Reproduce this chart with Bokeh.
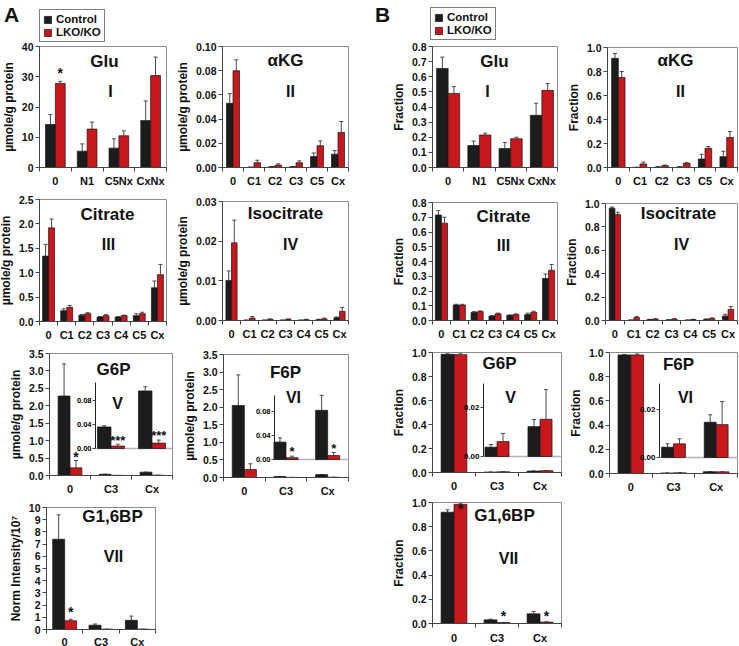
from bokeh.plotting import figure
from bokeh.models import (Range1d, LinearAxis, FixedTicker, PrintfTickFormatter, Whisker, TeeHead,
                          ColumnDataSource, Label, LabelSet, Legend, LegendItem, CustomJSTickFormatter)
from bokeh.core.properties import value
from bokeh.embed import file_html
from bokeh.resources import INLINE

FONT = "Liberation Sans"
BLACK = "#1c1c1c"
RED = "#c8181e"
ERR = "#4a4a4a"
TXT = "#111111"

# ---------------- data ----------------
# Panel A : concentrations
a_glu_cats = ["0", "N1", "C5Nx", "CxNx"]
a_glu_ctrl = [14.2, 5.4, 6.4, 15.5]
a_glu_ctrl_err = [3.3, 2.4, 3.1, 6.5]
a_glu_ko = [27.8, 12.7, 10.5, 30.4]
a_glu_ko_err = [0.7, 2.3, 1.6, 6.1]
a_glu_stars = [(0, "*", 32.2)]

a_akg_cats = ["0", "C1", "C2", "C3", "C5", "Cx"]
a_akg_ctrl = [0.053, 0.0003, 0.0006, 0.0006, 0.009, 0.011]
a_akg_ctrl_err = [0.008, 0.0, 0.0003, 0.0002, 0.003, 0.003]
a_akg_ko = [0.080, 0.004, 0.002, 0.004, 0.018, 0.029]
a_akg_ko_err = [0.009, 0.002, 0.001, 0.0015, 0.004, 0.009]

a_cit_cats = ["0", "C1", "C2", "C3", "C4", "C5", "Cx"]
a_cit_ctrl = [1.34, 0.22, 0.13, 0.09, 0.09, 0.12, 0.69]
a_cit_ctrl_err = [0.24, 0.04, 0.015, 0.01, 0.01, 0.04, 0.14]
a_cit_ko = [1.92, 0.29, 0.16, 0.12, 0.12, 0.16, 0.96]
a_cit_ko_err = [0.18, 0.04, 0.02, 0.02, 0.01, 0.03, 0.21]

a_iso_cats = ["0", "C1", "C2", "C3", "C4", "C5", "Cx"]
a_iso_ctrl = [0.0101, 0.0001, 0.0001, 0.0001, 0.0001, 0.0002, 0.0007]
a_iso_ctrl_err = [0.0024, 0.0, 0.0, 0.0, 0.0, 0.0001, 0.0002]
a_iso_ko = [0.0196, 0.0006, 0.0003, 0.0003, 0.0002, 0.0004, 0.0023]
a_iso_ko_err = [0.0057, 0.0004, 0.0001, 0.0001, 0.0001, 0.0002, 0.0010]

a_g6p_cats = ["0", "C3", "Cx"]
a_g6p_ctrl = [2.28, 0.036, 0.096]
a_g6p_ctrl_err = [0.92, 0.002, 0.007]
a_g6p_ko = [0.22, 0.004, 0.009]
a_g6p_ko_err = [0.21, 0.003, 0.005]
a_g6p_stars = [(0, "*", 0.63)]
a_g6p_inset_stars = [(1, "***", 0.018), (2, "***", 0.027)]

a_f6p_cats = ["0", "C3", "Cx"]
a_f6p_ctrl = [2.05, 0.029, 0.082]
a_f6p_ctrl_err = [0.87, 0.007, 0.025]
a_f6p_ko = [0.23, 0.003, 0.0067]
a_f6p_ko_err = [0.16, 0.0025, 0.005]
a_f6p_inset_stars = [(1, "*", 0.018), (2, "*", 0.023)]

a_g16_cats = ["0", "C3", "Cx"]
a_g16_ctrl = [7.4, 0.35, 0.75]
a_g16_ctrl_err = [2.0, 0.1, 0.35]
a_g16_ko = [0.72, 0.03, 0.03]
a_g16_ko_err = [0.12, 0.0, 0.0]
a_g16_stars = [(0, "*", 1.72)]

# Panel B : fractions
b_glu_cats = ["0", "N1", "C5Nx", "CxNx"]
b_glu_ctrl = [0.655, 0.145, 0.125, 0.345]
b_glu_ctrl_err = [0.075, 0.03, 0.04, 0.08]
b_glu_ko = [0.49, 0.215, 0.19, 0.51]
b_glu_ko_err = [0.045, 0.012, 0.01, 0.045]

b_akg_cats = ["0", "C1", "C2", "C3", "C5", "Cx"]
b_akg_ctrl = [0.91, 0.002, 0.005, 0.005, 0.07, 0.09]
b_akg_ctrl_err = [0.04, 0.0, 0.002, 0.002, 0.04, 0.045]
b_akg_ko = [0.75, 0.03, 0.015, 0.035, 0.16, 0.25]
b_akg_ko_err = [0.05, 0.015, 0.005, 0.005, 0.015, 0.05]

b_cit_cats = ["0", "C1", "C2", "C3", "C4", "C5", "Cx"]
b_cit_ctrl = [0.715, 0.105, 0.055, 0.03, 0.035, 0.04, 0.285]
b_cit_ctrl_err = [0.03, 0.005, 0.005, 0.003, 0.003, 0.01, 0.03]
b_cit_ko = [0.66, 0.105, 0.06, 0.045, 0.04, 0.055, 0.34]
b_cit_ko_err = [0.04, 0.005, 0.005, 0.005, 0.005, 0.008, 0.04]

b_iso_cats = ["0", "C1", "C2", "C3", "C4", "C5", "Cx"]
b_iso_ctrl = [0.96, 0.003, 0.008, 0.005, 0.003, 0.01, 0.038]
b_iso_ctrl_err = [0.01, 0.002, 0.002, 0.002, 0.002, 0.003, 0.015]
b_iso_ko = [0.905, 0.025, 0.012, 0.012, 0.008, 0.017, 0.095]
b_iso_ko_err = [0.02, 0.01, 0.003, 0.003, 0.002, 0.005, 0.025]

b_g6p_cats = ["0", "C3", "Cx"]
b_g6p_ctrl = [0.985, 0.0038, 0.0122]
b_g6p_ctrl_err = [0.004, 0.0011, 0.0029]
b_g6p_ko = [0.982, 0.0061, 0.0152]
b_g6p_ko_err = [0.012, 0.0033, 0.0121]

b_f6p_cats = ["0", "C3", "Cx"]
b_f6p_ctrl = [0.98, 0.0043, 0.0147]
b_f6p_ctrl_err = [0.004, 0.0014, 0.0031]
b_f6p_ko = [0.98, 0.0057, 0.0137]
b_f6p_ko_err = [0.008, 0.0021, 0.0096]

b_g16_cats = ["0", "C3", "Cx"]
b_g16_ctrl = [0.92, 0.03, 0.08]
b_g16_ctrl_err = [0.02, 0.005, 0.02]
b_g16_ko = [0.985, 0.008, 0.012]
b_g16_ko_err = [0.01, 0.0, 0.002]
b_g16_stars = [(0, "*", 0.975), (1, "*", 0.083), (2, "*", 0.083)]

# ---------------- geometry: one canvas, panels placed in pixels ----------------
CW, CH = 739, 646

p = figure(width=CW, height=CH, x_range=Range1d(0, CW), y_range=Range1d(CH, 0),
           output_backend="svg", toolbar_location=None, min_border=0,
           x_axis_location=None, y_axis_location=None)
p.grid.visible = False
p.outline_line_color = None
p.background_fill_color = "white"
p.border_fill_color = "white"

XR, YR = {}, {}


def add_text(text, rx, ry, size, style="bold", align="center", baseline="middle"):
    p.add_layout(Label(x=rx, y=ry, text=text, text_font=FONT, text_font_size=size,
                       text_font_style=style, text_align=align, text_baseline=baseline,
                       text_color=TXT))


def bars(xs, vals, errs, width, color, xr, yr, whisk=True):
    src = ColumnDataSource(dict(x=xs, top=vals, upper=[v + e for v, e in zip(vals, errs)]))
    r = p.vbar(x="x", top="top", bottom=0, width=width, source=src, fill_color=color,
               line_color="#151515", line_width=0.7, x_range_name=xr, y_range_name=yr)
    if whisk:
        p.add_layout(Whisker(source=src, base="x", lower="top", upper="upper", dimension="height",
                             line_color=ERR, line_width=1, x_range_name=xr, y_range_name=yr,
                             upper_head=TeeHead(size=4, line_color=ERR, line_width=1),
                             lower_head=None))
    return r


def stars(items, width, xr, yr, size="14px"):
    if not items:
        return
    src = ColumnDataSource(dict(x=[i + 0.5 + width / 2 for i, _, _ in items],
                                y=[y for _, _, y in items], t=[t for _, t, _ in items]))
    p.add_layout(LabelSet(x="x", y="y", text="t", source=src, x_range_name=xr, y_range_name=yr,
                          text_font=value(FONT), text_font_size=value(size),
                          text_font_style="bold", text_align="center", text_baseline="middle",
                          y_offset=-3, text_color=TXT))


def style_axis(ax, fs, bold=True):
    ax.major_label_text_font = FONT
    ax.major_label_text_font_style = "bold" if bold else "normal"
    ax.major_label_text_font_size = fs
    ax.major_label_text_color = TXT
    ax.axis_label_text_color = TXT
    ax.axis_line_color = "#444444"
    ax.major_tick_line_color = "#444444"
    ax.minor_tick_line_color = "#444444"


def panel(key, spec):
    cats = spec["cats"]
    n = len(cats)
    X0, Y0, X1, Y1 = spec["frame"]
    ymax = spec["ymax"]
    kx = n / (X1 - X0)
    ky = ymax / (Y1 - Y0)
    xr, yr = "x_" + key, "y_" + key
    XR[xr] = Range1d(-X0 * kx, (CW - X0) * kx)
    YR[yr] = Range1d((Y1 - CH) * ky, Y1 * ky)

    # frame outline
    p.quad(left=[0], right=[n], bottom=[0], top=[ymax], fill_color=None, line_color="#8c8c8c",
           line_width=1, x_range_name=xr, y_range_name=yr)

    # y axis
    ya = LinearAxis(x_range_name=xr, y_range_name=yr, fixed_location=0, bounds=(0, ymax),
                    ticker=FixedTicker(ticks=spec["yticks"]),
                    formatter=PrintfTickFormatter(format=spec["fmt"]))
    style_axis(ya, "10.5px")
    ya.axis_label = spec["ylabel"]
    ya.axis_label_text_font = FONT
    ya.axis_label_text_font_style = "bold"
    ya.axis_label_text_font_size = spec.get("ylabel_size", "12px")
    ya.axis_label_standoff = 3
    ya.major_label_standoff = 2
    ya.major_tick_out = 4
    ya.major_tick_in = 0
    ya.minor_tick_out = 0
    ya.minor_tick_in = 0
    p.add_layout(ya, "left")

    # x axis: labels at category centres, ticks at category boundaries
    xa = LinearAxis(x_range_name=xr, y_range_name=yr, fixed_location=0, bounds=(0, n),
                    ticker=FixedTicker(ticks=[i + 0.5 for i in range(n)], minor_ticks=list(range(n + 1))),
                    formatter=CustomJSTickFormatter(args=dict(labels=cats),
                                                    code="const i = Math.floor(tick); return (i >= 0 && i < labels.length) ? labels[i] : '';"))
    style_axis(xa, spec.get("xfs", "11px"))
    xa.major_tick_out = 0
    xa.major_tick_in = 0
    xa.minor_tick_out = 4
    xa.minor_tick_in = 0
    xa.major_label_standoff = spec.get("xstand", 3)
    p.add_layout(xa, "below")

    w = spec["bw"]
    ins = spec.get("inset")
    wh = [True] * n if not ins else [True] + [False] * (n - 1)
    xs_c = [i + 0.5 - w / 2 for i in range(n)]
    xs_k = [i + 0.5 + w / 2 for i in range(n)]
    rc = bars(xs_c, spec["ctrl"], [e if f else 0 for e, f in zip(spec["cerr"], wh)], w, BLACK, xr, yr)
    rk = bars(xs_k, spec["ko"], [e if f else 0 for e, f in zip(spec["kerr"], wh)], w, RED, xr, yr)
    stars(spec.get("stars"), w, xr, yr)

    if ins:
        ir = "i_" + key
        z = ins["zero"]
        ppu = ins["ppu"]
        YR[ir] = Range1d((z - CH) / ppu, z / ppu)
        iw = ins["bw"]
        ax = (ins["axis_px"] - X0) * kx
        idx = list(range(1, n))
        p.segment(x0=[ax], y0=[0], x1=[n], y1=[0], x_range_name=xr, y_range_name=ir,
                  line_color="#b4b4b4", line_width=1.5)
        bars([i + 0.5 - iw / 2 for i in idx], [spec["ctrl"][i] for i in idx],
             [spec["cerr"][i] for i in idx], iw, BLACK, xr, ir)
        bars([i + 0.5 + iw / 2 for i in idx], [spec["ko"][i] for i in idx],
             [spec["kerr"][i] for i in idx], iw, RED, xr, ir)
        stars(ins.get("stars"), iw, xr, ir, size="13px")
        iax = LinearAxis(x_range_name=xr, y_range_name=ir, fixed_location=ax, bounds=(0, ins["top"]),
                         ticker=FixedTicker(ticks=ins["ticks"]),
                         formatter=PrintfTickFormatter(format="%.2f"))
        style_axis(iax, ins["fs"])
        iax.axis_line_color = "#222222"
        iax.major_label_text_color = "#000000"
        iax.major_label_standoff = 1
        iax.major_tick_out = 3
        iax.major_tick_in = 0
        iax.minor_tick_out = 0
        iax.minor_tick_in = 0
        p.add_layout(iax, "left")

    add_text(spec["title"], spec["tpos"][0], spec["tpos"][1], "17px")
    add_text(spec["roman"], spec["rpos"][0], spec["rpos"][1], "16px")

    if spec.get("legend"):
        lx0, ly1 = spec["legend"]
        lg = Legend(items=[LegendItem(label="Control", renderers=[rc]),
                           LegendItem(label="LKO/KO", renderers=[rk])],
                    location=(lx0, CH - ly1),
                    border_line_color="black", border_line_width=1, background_fill_color="white",
                    background_fill_alpha=1.0, padding=3, spacing=1, margin=0,
                    glyph_width=9, glyph_height=9, label_standoff=4, label_height=11,
                    label_text_font=FONT, label_text_font_style="bold", label_text_font_size="11.5px",
                    label_text_color=TXT)
        p.add_layout(lg)
    if spec.get("letter"):
        t, lx, ly = spec["letter"]
        add_text(t, lx, ly, "21px")


UM = "\u00b5mole/g protein"
specs = {
    "a_glu": dict(cats=a_glu_cats, ctrl=a_glu_ctrl, cerr=a_glu_ctrl_err, ko=a_glu_ko, kerr=a_glu_ko_err,
                  stars=a_glu_stars, ymax=40, yticks=[0, 10, 20, 30, 40], fmt="%d", ylabel=UM,
                  frame=(39, 46, 166, 167), bw=0.31, title="Glu", tpos=(104, 61),
                  roman="I", rpos=(110, 91), legend=(39, 42), letter=("A", 11, 14)),
    "a_akg": dict(cats=a_akg_cats, ctrl=a_akg_ctrl, cerr=a_akg_ctrl_err, ko=a_akg_ko, kerr=a_akg_ko_err,
                  ymax=0.10, yticks=[0, 0.02, 0.04, 0.06, 0.08, 0.10], fmt="%.2f", ylabel=UM,
                  frame=(222, 46, 348, 167), bw=0.31, title="\u03b1KG", tpos=(285, 60),
                  roman="II", rpos=(290, 91)),
    "b_glu": dict(cats=b_glu_cats, ctrl=b_glu_ctrl, cerr=b_glu_ctrl_err, ko=b_glu_ko, kerr=b_glu_ko_err,
                  ymax=0.8, yticks=[0, 0.1, 0.2, 0.3, 0.4, 0.5, 0.6, 0.7, 0.8], fmt="%.1f", ylabel="Fraction",
                  frame=(432, 46, 557, 167), bw=0.37, title="Glu", tpos=(494, 61),
                  roman="I", rpos=(487, 91), legend=(430, 40), letter=("B", 382, 14)),
    "b_akg": dict(cats=b_akg_cats, ctrl=b_akg_ctrl, cerr=b_akg_ctrl_err, ko=b_akg_ko, kerr=b_akg_ko_err,
                  ymax=1.0, yticks=[0, 0.2, 0.4, 0.6, 0.8, 1.0], fmt="%.1f", ylabel="Fraction",
                  frame=(607, 47, 737, 167), bw=0.31, title="\u03b1KG", tpos=(675, 60),
                  roman="II", rpos=(680, 91)),
    "a_cit": dict(cats=a_cit_cats, ctrl=a_cit_ctrl, cerr=a_cit_ctrl_err, ko=a_cit_ko, kerr=a_cit_ko_err,
                  ymax=2.5, yticks=[0, 0.5, 1.0, 1.5, 2.0, 2.5], fmt="%.1f", ylabel=UM,
                  frame=(39, 199, 166, 321), bw=0.33, title="Citrate", tpos=(107, 214),
                  roman="III", rpos=(108, 244)),
    "a_iso": dict(cats=a_iso_cats, ctrl=a_iso_ctrl, cerr=a_iso_ctrl_err, ko=a_iso_ko, kerr=a_iso_ko_err,
                  ymax=0.03, yticks=[0, 0.01, 0.02, 0.03], fmt="%.2f", ylabel=UM,
                  frame=(222, 201, 348, 320), bw=0.31, title="Isocitrate", tpos=(285, 213),
                  roman="IV", rpos=(290, 244)),
    "b_cit": dict(cats=b_cit_cats, ctrl=b_cit_ctrl, cerr=b_cit_ctrl_err, ko=b_cit_ko, kerr=b_cit_ko_err,
                  ymax=0.8, yticks=[0, 0.1, 0.2, 0.3, 0.4, 0.5, 0.6, 0.7, 0.8], fmt="%.1f", ylabel="Fraction",
                  frame=(432, 202, 557, 320), bw=0.34, title="Citrate", tpos=(503, 216),
                  roman="III", rpos=(503, 245)),
    "b_iso": dict(cats=b_iso_cats, ctrl=b_iso_ctrl, cerr=b_iso_ctrl_err, ko=b_iso_ko, kerr=b_iso_ko_err,
                  ymax=1.0, yticks=[0, 0.2, 0.4, 0.6, 0.8, 1.0], fmt="%.1f", ylabel="Fraction",
                  frame=(605, 203, 737, 320), bw=0.30, title="Isocitrate", tpos=(678, 213),
                  roman="IV", rpos=(681, 244)),
    "a_g6p": dict(cats=a_g6p_cats, ctrl=a_g6p_ctrl, cerr=a_g6p_ctrl_err, ko=a_g6p_ko, kerr=a_g6p_ko_err,
                  stars=a_g6p_stars, ymax=3.5, yticks=[0, 0.5, 1.0, 1.5, 2.0, 2.5, 3.0, 3.5], fmt="%.1f",
                  ylabel=UM, frame=(49, 353, 172, 475), bw=0.29, title="G6P", tpos=(113, 369),
                  roman="V", rpos=(117, 403),
                  inset=dict(zero=448, ppu=600, top=0.11, ticks=[0, 0.04, 0.08], axis_px=95, bw=0.33,
                             fs="7.5px", stars=a_g6p_inset_stars)),
    "a_f6p": dict(cats=a_f6p_cats, ctrl=a_f6p_ctrl, cerr=a_f6p_ctrl_err, ko=a_f6p_ko, kerr=a_f6p_ko_err,
                  ymax=3.5, yticks=[0, 0.5, 1.0, 1.5, 2.0, 2.5, 3.0, 3.5], fmt="%.1f",
                  ylabel=UM, frame=(223, 354, 348, 477), bw=0.29, title="F6P", tpos=(285, 372),
                  roman="VI", rpos=(293, 397),
                  inset=dict(zero=459, ppu=600, top=0.107, ticks=[0, 0.04, 0.08], axis_px=274, bw=0.29,
                             fs="7.5px", stars=a_f6p_inset_stars)),
    "b_g6p": dict(cats=b_g6p_cats, ctrl=b_g6p_ctrl, cerr=b_g6p_ctrl_err, ko=b_g6p_ko, kerr=b_g6p_ko_err,
                  ymax=1.0, yticks=[0, 0.2, 0.4, 0.6, 0.8, 1.0], fmt="%.1f", ylabel="Fraction",
                  frame=(432, 352, 561, 472), bw=0.30, title="G6P", tpos=(499, 363),
                  roman="V", rpos=(510, 397),
                  inset=dict(zero=456, ppu=2450, top=0.030, ticks=[0, 0.02], axis_px=483, bw=0.28, fs="8px")),
    "b_f6p": dict(cats=b_f6p_cats, ctrl=b_f6p_ctrl, cerr=b_f6p_ctrl_err, ko=b_f6p_ko, kerr=b_f6p_ko_err,
                  ymax=1.0, yticks=[0, 0.2, 0.4, 0.6, 0.8, 1.0], fmt="%.1f", ylabel="Fraction",
                  frame=(609, 352, 737, 473), bw=0.30, title="F6P", tpos=(678, 364),
                  roman="VI", rpos=(685, 397),
                  inset=dict(zero=457, ppu=2400, top=0.031, ticks=[0, 0.02], axis_px=659, bw=0.28, fs="8px")),
    "a_g16": dict(cats=a_g16_cats, ctrl=a_g16_ctrl, cerr=a_g16_ctrl_err, ko=a_g16_ko, kerr=a_g16_ko_err,
                  stars=a_g16_stars, ymax=10, yticks=list(range(0, 11)), fmt="%d",
                  ylabel="Norm Intensity/10\u2077", frame=(46, 507, 155, 629), bw=0.33,
                  title="G1,6BP", tpos=(112, 516), roman="VII", rpos=(113, 556), xstand=2),
    "b_g16": dict(cats=b_g16_cats, ctrl=b_g16_ctrl, cerr=b_g16_ctrl_err, ko=b_g16_ko, kerr=b_g16_ko_err,
                  stars=b_g16_stars, ymax=1.0, yticks=[0, 0.2, 0.4, 0.6, 0.8, 1.0], fmt="%.1f",
                  ylabel="Fraction", frame=(432, 502, 561, 623), bw=0.30,
                  title="G1,6BP", tpos=(504, 515), roman="VII", rpos=(508, 558), xstand=4),
}

for k, v in specs.items():
    panel(k, v)

p.extra_x_ranges = XR
p.extra_y_ranges = YR

open("out.html", "w").write(file_html(p, INLINE))
